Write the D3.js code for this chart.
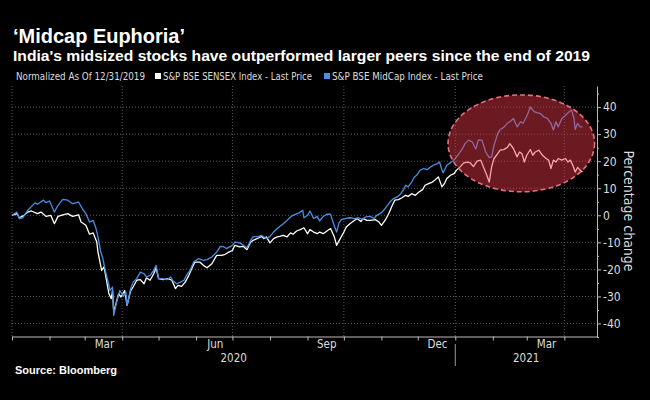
<!DOCTYPE html>
<html>
<head>
<meta charset="utf-8">
<script src="https://cdn.jsdelivr.net/npm/d3@7"></script>
<style>
  body { margin: 0; background: #000; }
  svg { display: block; background: #000; }
  .cond { font-family: "DejaVu Sans Condensed", "DejaVu Sans", sans-serif; font-stretch: condensed; }
  .head { font-family: "Liberation Sans", Arial, sans-serif; font-weight: bold; }
</style>
</head>
<body>
<div id="chart"></div>
<script>

// S&P BSE SENSEX, % change since 12/31/2019
var sensex = [
  ["2020-01-01", 0], ["2020-01-05", 0.6], ["2020-01-07", -0.9], ["2020-01-11", 0], ["2020-01-14", 1.2],
  ["2020-01-17", 1.6], ["2020-01-22", 0.6], ["2020-01-25", 1.2], ["2020-01-29", -0.4], ["2020-02-02", 0],
  ["2020-02-05", -3.1], ["2020-02-08", -0.4], ["2020-02-12", 0.2], ["2020-02-16", 0.6], ["2020-02-20", -0.4],
  ["2020-02-25", 0.2], ["2020-02-27", -2.5], ["2020-03-02", -3.7], ["2020-03-05", -7], ["2020-03-08", -6.5],
  ["2020-03-11", -9.9], ["2020-03-12", -13.6], ["2020-03-15", -20.4], ["2020-03-17", -19.1], ["2020-03-19", -24],
  ["2020-03-21", -29], ["2020-03-23", -30.8], ["2020-03-24", -27.8], ["2020-03-25", -35.8], ["2020-03-29", -29],
  ["2020-03-31", -30.2], ["2020-04-03", -27.8], ["2020-04-05", -33.3], ["2020-04-08", -27.8], ["2020-04-10", -26.5],
  ["2020-04-13", -24], ["2020-04-16", -23.8], ["2020-04-19", -25.3], ["2020-04-21", -23.1], ["2020-04-24", -24],
  ["2020-04-27", -21.6], ["2020-04-29", -19.4], ["2020-05-01", -23.4], ["2020-05-05", -23.8], ["2020-05-09", -23.4],
  ["2020-05-12", -24], ["2020-05-15", -27.1], ["2020-05-17", -25.9], ["2020-05-20", -26.3], ["2020-05-23", -24.7],
  ["2020-05-26", -22.2], ["2020-05-29", -19.1], ["2020-05-31", -17.3], ["2020-06-04", -17.3], ["2020-06-07", -18.5],
  ["2020-06-10", -19.4], ["2020-06-14", -17.9], ["2020-06-18", -14.8], ["2020-06-22", -14.8], ["2020-06-25", -14.4],
  ["2020-06-28", -13.6], ["2020-07-01", -13], ["2020-07-03", -11.1], ["2020-07-07", -11.7], ["2020-07-10", -11.5],
  ["2020-07-13", -12.7], ["2020-07-16", -9.9], ["2020-07-18", -9.3], ["2020-07-23", -8.3], ["2020-07-25", -7.8],
  ["2020-07-27", -8.6], ["2020-07-29", -8], ["2020-08-01", -10.2], ["2020-08-04", -8.6], ["2020-08-07", -8],
  ["2020-08-09", -7.8], ["2020-08-12", -7.4], ["2020-08-15", -8], ["2020-08-18", -6.5], ["2020-08-20", -7],
  ["2020-08-23", -5.8], ["2020-08-26", -5.3], ["2020-08-29", -4.6], ["2020-09-01", -6.8], ["2020-09-03", -5.3],
  ["2020-09-06", -6.2], ["2020-09-09", -6.8], ["2020-09-11", -6.2], ["2020-09-14", -6.8], ["2020-09-17", -5.8],
  ["2020-09-20", -4.9], ["2020-09-23", -7.8], ["2020-09-25", -11.1], ["2020-09-28", -8.6], ["2020-10-01", -6.2],
  ["2020-10-03", -4.3], ["2020-10-06", -3.1], ["2020-10-09", -2.1], ["2020-10-12", -1.2], ["2020-10-15", -2.3],
  ["2020-10-17", -1.2], ["2020-10-20", -1.9], ["2020-10-23", -1.9], ["2020-10-27", -1.6], ["2020-10-30", -2.5],
  ["2020-11-01", -3.7], ["2020-11-04", -1.9], ["2020-11-07", 0.6], ["2020-11-10", 3.7], ["2020-11-12", 5.6],
  ["2020-11-15", 5.8], ["2020-11-18", 6.5], ["2020-11-21", 7.4], ["2020-11-23", 7], ["2020-11-26", 8],
  ["2020-11-29", 7.4], ["2020-12-02", 8.6], ["2020-12-05", 9.5], ["2020-12-07", 11.1], ["2020-12-10", 11.7],
  ["2020-12-13", 12.3], ["2020-12-15", 13], ["2020-12-18", 14.2], ["2020-12-21", 10.5], ["2020-12-23", 11.7],
  ["2020-12-25", 13.6], ["2020-12-28", 14.8], ["2020-12-31", 15.4], ["2021-01-02", 16.7], ["2021-01-05", 17.9],
  ["2021-01-08", 19.4], ["2021-01-11", 19.7], ["2021-01-13", 19.5], ["2021-01-16", 18], ["2021-01-19", 20],
  ["2021-01-22", 20.4], ["2021-01-24", 18.1], ["2021-01-27", 14.8], ["2021-01-29", 12.3], ["2021-01-31", 17.9],
  ["2021-02-02", 21], ["2021-02-05", 22.8], ["2021-02-07", 24.1], ["2021-02-10", 24.3], ["2021-02-13", 25.1],
  ["2021-02-15", 26.5], ["2021-02-18", 24.7], ["2021-02-21", 21.6], ["2021-02-23", 23.4], ["2021-02-25", 22.8],
  ["2021-02-27", 19.7], ["2021-03-01", 22.2], ["2021-03-04", 24.3], ["2021-03-06", 22.2], ["2021-03-08", 23.4],
  ["2021-03-11", 24.1], ["2021-03-14", 22.2], ["2021-03-17", 21], ["2021-03-19", 20.4], ["2021-03-21", 17.3],
  ["2021-03-23", 20.4], ["2021-03-25", 19.7], ["2021-03-27", 21], ["2021-03-30", 20.4], ["2021-04-02", 21],
  ["2021-04-04", 19.7], ["2021-04-06", 20.4], ["2021-04-08", 18.5], ["2021-04-10", 16], ["2021-04-12", 17.7],
  ["2021-04-14", 16.7], ["2021-04-16", 16]
];

// S&P BSE MidCap, % change since 12/31/2019
var midcap = [
  ["2020-01-01", 0], ["2020-01-05", 1.2], ["2020-01-07", -1.2], ["2020-01-10", -0.9], ["2020-01-14", 1.9],
  ["2020-01-20", 4.6], ["2020-01-22", 4.1], ["2020-01-27", 5.6], ["2020-01-29", 4.7], ["2020-02-01", 5.3],
  ["2020-02-05", 1.2], ["2020-02-08", 3.7], ["2020-02-12", 5.9], ["2020-02-16", 5.6], ["2020-02-20", 4.3],
  ["2020-02-25", 4.9], ["2020-02-28", 2.5], ["2020-03-02", 0.6], ["2020-03-05", -2.5], ["2020-03-08", -1.9],
  ["2020-03-10", -4.3], ["2020-03-12", -8], ["2020-03-14", -13], ["2020-03-16", -16], ["2020-03-18", -20.4],
  ["2020-03-20", -24], ["2020-03-22", -27.8], ["2020-03-24", -26.5], ["2020-03-25", -37], ["2020-03-27", -32.7],
  ["2020-03-30", -27.8], ["2020-04-02", -29.9], ["2020-04-04", -28.4], ["2020-04-05", -33.3], ["2020-04-08", -27.1],
  ["2020-04-10", -24.7], ["2020-04-13", -23.4], ["2020-04-16", -21], ["2020-04-19", -21.6], ["2020-04-21", -22.8],
  ["2020-04-24", -22.2], ["2020-04-27", -20.4], ["2020-04-29", -18.5], ["2020-05-01", -23.4], ["2020-05-04", -23.4],
  ["2020-05-08", -23.8], ["2020-05-11", -22.8], ["2020-05-13", -24.3], ["2020-05-16", -25.3], ["2020-05-19", -24.7],
  ["2020-05-22", -24], ["2020-05-24", -22.2], ["2020-05-27", -20.4], ["2020-05-30", -17.3], ["2020-06-03", -16],
  ["2020-06-07", -16.7], ["2020-06-10", -16.4], ["2020-06-14", -15.4], ["2020-06-18", -13.6], ["2020-06-21", -11.5],
  ["2020-06-24", -11.7], ["2020-06-26", -12.3], ["2020-07-01", -11.1], ["2020-07-03", -9.9], ["2020-07-07", -10.2],
  ["2020-07-10", -11.1], ["2020-07-13", -12], ["2020-07-16", -9.3], ["2020-07-18", -8], ["2020-07-23", -7.8],
  ["2020-07-25", -7.4], ["2020-07-27", -8], ["2020-07-29", -8.6], ["2020-08-01", -7.8], ["2020-08-04", -6.2],
  ["2020-08-07", -4.9], ["2020-08-09", -4.1], ["2020-08-12", -3.1], ["2020-08-15", -1.9], ["2020-08-18", -0.6],
  ["2020-08-20", 0], ["2020-08-25", 0.9], ["2020-08-28", 1.9], ["2020-08-29", -0.9], ["2020-09-01", 0],
  ["2020-09-03", 1.6], ["2020-09-06", -1.2], ["2020-09-09", -0.4], ["2020-09-11", -2.1], ["2020-09-14", -0.4],
  ["2020-09-17", 0.4], ["2020-09-20", 0.4], ["2020-09-22", -2.5], ["2020-09-25", -6.2], ["2020-09-27", -2.8],
  ["2020-09-29", -1.6], ["2020-10-02", -1.2], ["2020-10-06", -0.9], ["2020-10-10", -1.2], ["2020-10-13", -0.9],
  ["2020-10-16", -1.5], ["2020-10-19", -0.6], ["2020-10-23", -0.4], ["2020-10-26", -1.2], ["2020-10-28", 0],
  ["2020-10-31", 0.6], ["2020-11-03", 1.9], ["2020-11-06", 3.7], ["2020-11-08", 4.9], ["2020-11-11", 6.2],
  ["2020-11-14", 6.8], ["2020-11-17", 8], ["2020-11-19", 9.3], ["2020-11-21", 11.1], ["2020-11-23", 10.5],
  ["2020-11-26", 12.3], ["2020-11-28", 14], ["2020-11-30", 14.8], ["2020-12-03", 16.7], ["2020-12-06", 17.3],
  ["2020-12-09", 16.9], ["2020-12-11", 17.7], ["2020-12-14", 18.5], ["2020-12-17", 19.1], ["2020-12-19", 19.7],
  ["2020-12-21", 16.7], ["2020-12-22", 15.7], ["2020-12-25", 18.5], ["2020-12-27", 19.1], ["2020-12-30", 20.1],
  ["2021-01-01", 21], ["2021-01-04", 22.8], ["2021-01-07", 24.7], ["2021-01-09", 26.5], ["2021-01-12", 27.8],
  ["2021-01-15", 27.1], ["2021-01-18", 24.5], ["2021-01-20", 27.9], ["2021-01-23", 27.8], ["2021-01-26", 23.5],
  ["2021-01-29", 21.3], ["2021-01-31", 21.6], ["2021-02-02", 25.9], ["2021-02-05", 30.2], ["2021-02-07", 31.7],
  ["2021-02-10", 32.5], ["2021-02-13", 34], ["2021-02-15", 34.6], ["2021-02-18", 35.8], ["2021-02-21", 32.7],
  ["2021-02-24", 34.6], ["2021-02-26", 34], ["2021-02-28", 35.8], ["2021-03-02", 37.7], ["2021-03-04", 40.1],
  ["2021-03-07", 38.3], ["2021-03-10", 37.9], ["2021-03-12", 37.7], ["2021-03-15", 36.4], ["2021-03-18", 35.8],
  ["2021-03-21", 34], ["2021-03-23", 31.5], ["2021-03-25", 34.6], ["2021-03-27", 32.7], ["2021-03-30", 35.8],
  ["2021-04-02", 37], ["2021-04-05", 38.3], ["2021-04-07", 38.9], ["2021-04-09", 35.8], ["2021-04-10", 31.7],
  ["2021-04-12", 34], ["2021-04-14", 32.7], ["2021-04-16", 32.7]
];

// axis ticks and labels
var yTicks = [-40, -30, -20, -10, 0, 10, 20, 30, 40];
var yMinorTicks = [-45, -35, -25, -15, -5, 5, 15, 25, 35, 45];
var gridMonths = ["2020-01-01", "2020-04-01", "2020-07-01", "2020-10-01", "2021-01-01", "2021-04-01"];
var monthLabels = [["2020-03", "Mar"], ["2020-06", "Jun"], ["2020-09", "Sep"], ["2020-12", "Dec"], ["2021-03", "Mar"]];
var yearLabels = ["2020", "2021"];

// highlighted region (the red ellipse)
var highlightDates = ["2020-12-26", "2021-04-26"];
var highlightRange = [8.7, 44.5];

var seriesNames = ["S&P BSE SENSEX Index - Last Price", "S&P BSE MidCap Index - Last Price"];
var seriesColors = ["#ffffff", "#4a8fe2"];

var parseDate = d3.timeParse("%Y-%m-%d");
var parseMonth = d3.timeParse("%Y-%m");

var W = 650, H = 400;
var plot = {left: 12, right: 597, top: 86, bottom: 336.5};

var svg = d3.select("#chart").append("svg")
    .attr("width", W)
    .attr("height", H);

// scales
var x = d3.scaleTime()
    .domain([parseDate("2020-01-01"), parseDate("2021-04-28")])
    .range([plot.left, plot.right]);

var y = d3.scaleLinear()
    .domain([-44.8, 47.8])
    .range([plot.bottom, plot.top]);

// titles
svg.append("text")
    .attr("class", "head")
    .attr("x", 13).attr("y", 43)
    .attr("fill", "#fff")
    .attr("textLength", 172)
    .attr("lengthAdjust", "spacingAndGlyphs")
    .style("font-size", "19.5px")
    .text("\u2018Midcap Euphoria\u2019");

svg.append("text")
    .attr("class", "head")
    .attr("x", 13).attr("y", 61)
    .attr("fill", "#fff")
    .attr("textLength", 577)
    .attr("lengthAdjust", "spacingAndGlyphs")
    .style("font-size", "15px")
    .text("India's midsized stocks have outperformed larger peers since the end of 2019");

// legend
var legend = svg.append("g").attr("class", "cond")
    .style("font-size", "10.5px")
    .attr("fill", "#ddd");

legend.append("text")
    .attr("x", 16).attr("y", 80)
    .attr("textLength", 129)
    .attr("lengthAdjust", "spacingAndGlyphs")
    .text("Normalized As Of 12/31/2019");

var legendX = [155, 324];
var legendW = [149, 151];
seriesNames.forEach(function(name, i) {
    legend.append("rect")
        .attr("x", legendX[i]).attr("y", 73)
        .attr("width", 6).attr("height", 6)
        .attr("fill", seriesColors[i]);
    legend.append("text")
        .attr("x", legendX[i] + 8).attr("y", 80)
        .attr("textLength", legendW[i])
        .attr("lengthAdjust", "spacingAndGlyphs")
        .text(name);
});

// grid
var grid = svg.append("g")
    .attr("stroke", "#5a5a5a")
    .attr("stroke-width", 1)
    .attr("stroke-dasharray", "1,2");

grid.selectAll(".hgrid")
    .data(yTicks)
    .enter().append("line")
    .attr("class", "hgrid")
    .attr("x1", plot.left).attr("x2", plot.right)
    .attr("y1", function(d) { return y(d); })
    .attr("y2", function(d) { return y(d); });

grid.selectAll(".vgrid")
    .data(gridMonths)
    .enter().append("line")
    .attr("class", "vgrid")
    .attr("x1", function(d) { return x(parseDate(d)); })
    .attr("x2", function(d) { return x(parseDate(d)); })
    .attr("y1", plot.top).attr("y2", plot.bottom);

// lines
var line = d3.line()
    .x(function(d) { return x(parseDate(d[0])); })
    .y(function(d) { return y(d[1]); });

[sensex, midcap].forEach(function(series, i) {
    svg.append("path")
        .datum(series)
        .attr("fill", "none")
        .attr("stroke", seriesColors[i])
        .attr("stroke-width", 1.3)
        .attr("stroke-linejoin", "round")
        .attr("d", line);
});

// red ellipse over the 2021 rally
var ex0 = x(parseDate(highlightDates[0])), ex1 = x(parseDate(highlightDates[1]));
var ey0 = y(highlightRange[1]), ey1 = y(highlightRange[0]);
svg.append("ellipse")
    .attr("cx", (ex0 + ex1) / 2)
    .attr("cy", (ey0 + ey1) / 2)
    .attr("rx", (ex1 - ex0) / 2)
    .attr("ry", (ey1 - ey0) / 2)
    .attr("fill", "rgb(236,58,72)")
    .attr("fill-opacity", 0.45)
    .attr("stroke", "#e8707c")
    .attr("stroke-width", 1.6)
    .attr("stroke-dasharray", "5,3");

// x axis
var xAxis = svg.append("g")
    .attr("transform", "translate(0," + plot.bottom + ")")
    .call(d3.axisBottom(x)
        .ticks(d3.timeMonth.every(1))
        .tickSize(4)
        .tickSizeOuter(0)
        .tickFormat(""));
xAxis.select(".domain").attr("stroke", "#bbb");
xAxis.selectAll(".tick line").attr("stroke", "#bbb");

var axisText = svg.append("g").attr("class", "cond")
    .attr("fill", "#ddd")
    .style("font-size", "11.5px")
    .attr("text-anchor", "middle");

axisText.selectAll(".month")
    .data(monthLabels)
    .enter().append("text")
    .attr("class", "month")
    .attr("x", function(d) {
        var m = parseMonth(d[0]);
        return (x(m) + x(d3.timeMonth.offset(m, 1))) / 2 + 1;
    })
    .attr("y", 348)
    .text(function(d) { return d[1]; });

var yearStart = yearLabels.map(function(d) { return x(parseDate(d + "-01-01")); });
axisText.selectAll(".year")
    .data(yearLabels)
    .enter().append("text")
    .attr("class", "year")
    .attr("x", function(d, i) { return (yearStart[i] + (i + 1 < yearStart.length ? yearStart[i + 1] : plot.right)) / 2; })
    .attr("y", 362)
    .text(function(d) { return d; });

// year separator
svg.append("line")
    .attr("x1", yearStart[1]).attr("x2", yearStart[1])
    .attr("y1", 344).attr("y2", 366)
    .attr("stroke", "#999");

// y axis on the right
var yMinor = svg.append("g")
    .attr("transform", "translate(" + plot.right + ",0)")
    .call(d3.axisRight(y).tickValues(yMinorTicks).tickSize(2).tickFormat(""));
yMinor.select(".domain").remove();
yMinor.selectAll(".tick line").attr("stroke", "#bbb");

var yAxis = svg.append("g")
    .attr("class", "cond")
    .attr("transform", "translate(" + plot.right + ",0)")
    .call(d3.axisRight(y)
        .tickValues(yTicks)
        .tickSize(4)
        .tickSizeOuter(0)
        .tickPadding(2)
        .tickFormat(function(d) { return String(d); }));
yAxis.select(".domain").attr("stroke", "#bbb");
yAxis.selectAll(".tick line").attr("stroke", "#bbb");
yAxis.selectAll(".tick text")
    .attr("fill", "#ddd")
    .style("font-family", "'DejaVu Sans Condensed', 'DejaVu Sans', sans-serif")
    .style("font-stretch", "condensed")
    .style("font-size", "12px");

svg.append("text")
    .attr("class", "cond")
    .attr("transform", "translate(624,211) rotate(90)")
    .attr("text-anchor", "middle")
    .attr("fill", "#ddd")
    .style("font-size", "14px")
    .text("Percentage change");

// source
svg.append("text")
    .attr("class", "head")
    .attr("x", 15).attr("y", 374)
    .attr("fill", "#fff")
    .style("font-size", "11px")
    .text("Source: Bloomberg");

</script>
</body>
</html>
